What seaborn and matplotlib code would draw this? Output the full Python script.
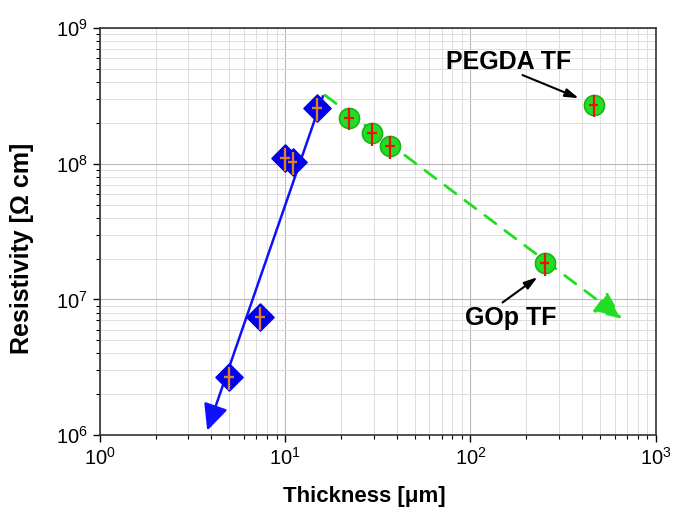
import matplotlib
matplotlib.use("Agg")
import matplotlib.pyplot as plt
import seaborn as sns
import pandas as pd

# Blue diamonds (thin films, rising branch)
blue_x = [5.0, 7.3, 10.0, 11.0, 14.9]
blue_y = [2.67e6, 7.4e6, 1.1e8, 1.03e8, 2.57e8]
blue_xerr = [0.3, 0.45, 0.6, 0.65, 0.9]
blue_yerr = [0.5e6, 1.4e6, 2.1e7, 2.0e7, 5.0e7]

# Green circles (falling branch + PEGDA)
green_x = [22.2, 29.5, 37.0, 251, 462]
green_y = [2.17e8, 1.68e8, 1.35e8, 1.85e7, 2.7e8]
green_xerr = [1.3, 1.8, 2.2, 15, 28]
green_yerr = [4.0e7, 3.2e7, 2.6e7, 3.5e6, 5.0e7]

# guide lines (fits)
blue_fit_x = [16.0, 3.8]
blue_fit_y = [3.15e8, 1.08e6]
green_fit_x = [16.4, 660]
green_fit_y = [3.2e8, 7.2e6]

# label positions and arrow ends
pegda_text = (160, 5.6e8)
pegda_arrow = [(191, 4.5e8), (384, 3.04e8)]
gop_text = (164, 7.3e6)
gop_arrow = [(149, 9.5e6), (230, 1.46e7)]

sns.set_style("white")
plt.rcParams['font.family'] = ['Liberation Sans', 'DejaVu Sans']
plt.rcParams['mathtext.fontset'] = 'custom'
plt.rcParams['mathtext.rm'] = 'Liberation Sans'
plt.rcParams['mathtext.it'] = 'Liberation Sans:italic'
plt.rcParams['text.color'] = 'black'
plt.rcParams['axes.labelcolor'] = 'black'
plt.rcParams['xtick.color'] = 'black'
plt.rcParams['ytick.color'] = 'black'

fig = plt.figure(figsize=(6.74, 5.09), dpi=100)
ax = fig.add_axes([0.148, 0.145, 0.825, 0.80])
ax.set_xscale('log')
ax.set_yscale('log')
ax.set_xlim(1, 1000)
ax.set_ylim(1e6, 1e9)

ax.grid(True, which='major', color='#b8b8b8', lw=0.8)
ax.grid(True, which='minor', color='#dedede', lw=0.7)
ax.set_axisbelow(True)

# fit lines with arrow heads
ax.annotate('', xy=(blue_fit_x[1], blue_fit_y[1]), xytext=(blue_fit_x[0], blue_fit_y[0]),
            arrowprops=dict(arrowstyle='-|>,head_length=1.6,head_width=0.75', color='#1010ff', lw=1.8,
                            shrinkA=0, shrinkB=0))
ax.annotate('', xy=(green_fit_x[1], green_fit_y[1]), xytext=(green_fit_x[0], green_fit_y[0]),
            arrowprops=dict(arrowstyle='-|>,head_length=1.7,head_width=0.75', color='#22dd22', lw=2.0,
                            ls=(0, (5, 4)), shrinkA=0, shrinkB=0))

blue_df = pd.DataFrame({'x': blue_x, 'y': blue_y})
green_df = pd.DataFrame({'x': green_x, 'y': green_y})
sns.scatterplot(data=blue_df, x='x', y='y', marker='D', s=190, color='#0000ee',
                edgecolor='#0000ee', ax=ax, zorder=3)
sns.scatterplot(data=green_df, x='x', y='y', marker='o', s=210, color='#22dd22',
                edgecolor='#1ab01a', ax=ax, zorder=3)
ax.errorbar(blue_x, blue_y, xerr=blue_xerr, yerr=blue_yerr, fmt='none',
            ecolor='#e08020', elinewidth=1.7, capsize=0, zorder=4)
ax.errorbar(green_x, green_y, xerr=green_xerr, yerr=green_yerr, fmt='none',
            ecolor='#ee1010', elinewidth=1.6, capsize=0, zorder=4)

# labels with arrows
ax.text(*pegda_text, 'PEGDA TF', fontsize=18, fontweight='bold', ha='center', va='center')
ax.annotate('', xy=pegda_arrow[1], xytext=pegda_arrow[0],
            arrowprops=dict(arrowstyle='-|>,head_length=0.8,head_width=0.25', color='black', lw=1.5,
                            shrinkA=0, shrinkB=0))
ax.text(*gop_text, 'GOp TF', fontsize=18, fontweight='bold', ha='center', va='center')
ax.annotate('', xy=gop_arrow[1], xytext=gop_arrow[0],
            arrowprops=dict(arrowstyle='-|>,head_length=0.8,head_width=0.25', color='black', lw=1.5,
                            shrinkA=0, shrinkB=0))

ax.set_xlabel('Thickness [\u03bcm]', fontsize=16, fontweight='bold')
ax.set_ylabel('Resistivity [\u03a9 cm]', fontsize=18, fontweight='bold')
ax.xaxis.set_label_coords(0.475, -0.125)
ax.yaxis.set_label_coords(-0.118, 0.46)
ax.tick_params(axis='both', which='major', labelsize=14.5, direction='out', length=5, width=1,
               bottom=True, left=True)
ax.tick_params(axis='both', which='minor', direction='out', length=3, width=0.8,
               bottom=True, left=True)
for s in ax.spines.values():
    s.set_color('#333333')
    s.set_linewidth(1.2)

plt.savefig('out.png', dpi=100)
